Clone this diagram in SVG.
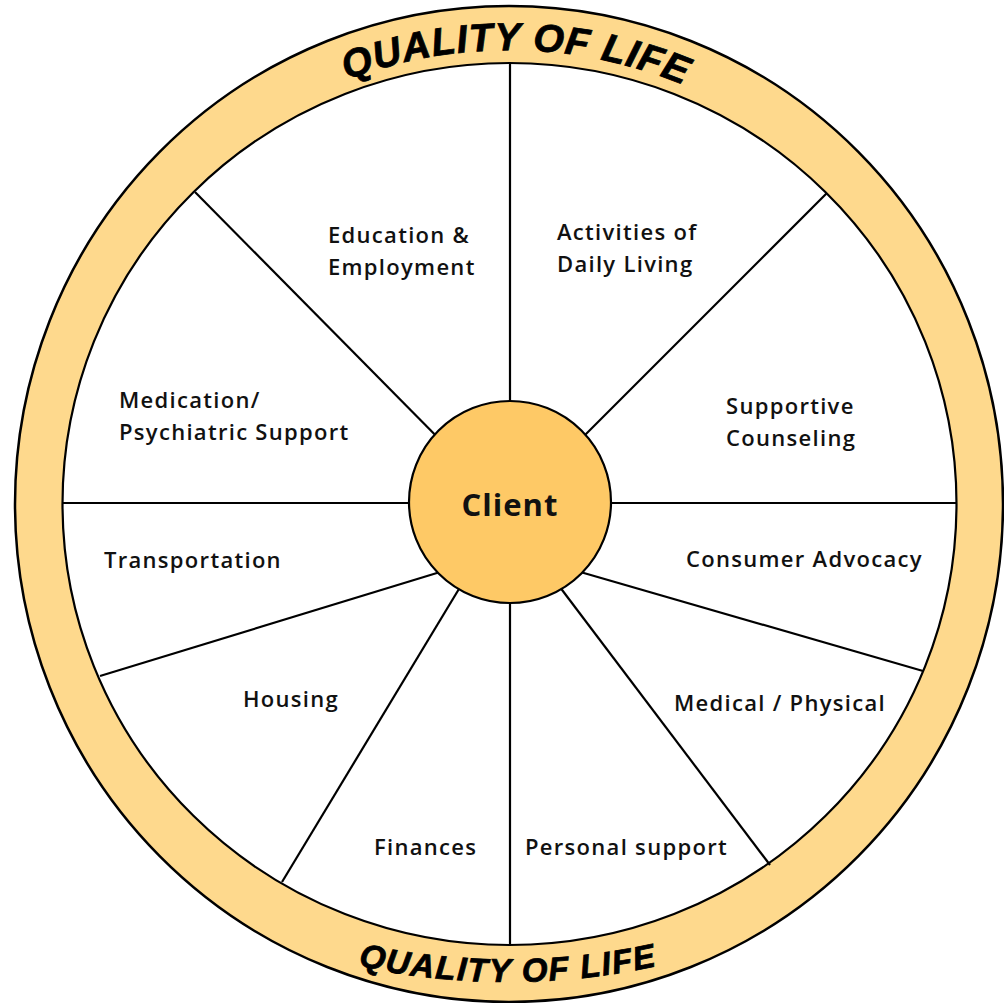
<svg xmlns="http://www.w3.org/2000/svg" xmlns:xlink="http://www.w3.org/1999/xlink" width="1004" height="1003" viewBox="0 0 1004 1003">
  <style>
    .lbl { font-family: "Open Sans", "Liberation Sans", sans-serif; font-weight: 600; font-size: 22px; letter-spacing: 1.3px; fill: #111; }
    .qol { font-family: "Liberation Sans", "DejaVu Sans", sans-serif; font-weight: bold; font-style: italic; fill: #000; stroke: #000; stroke-width: 0.8; }
    .spoke { stroke: #000; stroke-width: 2.2; fill: none; }
  </style>
  <defs>
    <path id="topArc" d="M 55 504 A 454 454 0 0 1 963 504"/>
    <path id="botArc" d="M -192 282 A 700 700 0 0 0 1208 282"/>
  </defs>
  <rect width="1004" height="1003" fill="#fff"/>
  <g id="ring">
    <ellipse cx="509" cy="504" rx="494" ry="498" fill="#FED98D" stroke="#000" stroke-width="2.5"/>
    <ellipse cx="509.5" cy="504" rx="447" ry="441" fill="#fff" stroke="#000" stroke-width="2.2"/>
    <text class="qol" font-size="39" letter-spacing="1"><textPath xlink:href="#topArc" startOffset="50.5%" text-anchor="middle">QUALITY OF LIFE</textPath></text>
    <text class="qol" font-size="33" letter-spacing="1.5"><textPath xlink:href="#botArc" startOffset="50%" text-anchor="middle">QUALITY OF LIFE</textPath></text>
  </g>
  <g id="connectors">
    <line class="spoke" x1="510" y1="450" x2="510" y2="63"/>
    <line class="spoke" x1="510" y1="550" x2="510" y2="945"/>
    <line class="spoke" x1="460" y1="503" x2="62" y2="503"/>
    <line class="spoke" x1="560" y1="503" x2="957" y2="503"/>
    <line class="spoke" x1="460" y1="460" x2="195" y2="192"/>
    <line class="spoke" x1="560" y1="460" x2="827" y2="193"/>
    <line class="spoke" x1="570" y1="569" x2="923" y2="671"/>
    <line class="spoke" x1="550" y1="574" x2="770" y2="865"/>
    <line class="spoke" x1="468" y1="574" x2="282" y2="882"/>
    <line class="spoke" x1="450" y1="569" x2="100" y2="676"/>
  </g>
  <g id="client">
    <circle cx="510" cy="502" r="101" fill="#FEC966" stroke="#000" stroke-width="2.2"/>
    <text x="510" y="516" text-anchor="middle" style="font-family: 'Open Sans', 'Liberation Sans', sans-serif; font-weight: 700; font-size: 31px; letter-spacing: 1px; fill: #111;">Client</text>
  </g>
  <g id="education"><text class="lbl" x="328" y="243">Education &amp;</text><text class="lbl" x="328" y="275">Employment</text></g>
  <g id="adl"><text class="lbl" x="557" y="240">Activities of</text><text class="lbl" x="557" y="272">Daily Living</text></g>
  <g id="medication"><text class="lbl" x="119" y="408">Medication/</text><text class="lbl" x="119" y="440">Psychiatric Support</text></g>
  <g id="counseling"><text class="lbl" x="726" y="414">Supportive</text><text class="lbl" x="726" y="446">Counseling</text></g>
  <g id="transportation"><text class="lbl" x="104" y="568">Transportation</text></g>
  <g id="advocacy"><text class="lbl" x="686" y="567">Consumer Advocacy</text></g>
  <g id="housing"><text class="lbl" x="243" y="707">Housing</text></g>
  <g id="medical"><text class="lbl" x="674" y="711">Medical / Physical</text></g>
  <g id="finances"><text class="lbl" x="374" y="855">Finances</text></g>
  <g id="personal"><text class="lbl" x="525" y="855">Personal support</text></g>
</svg>
